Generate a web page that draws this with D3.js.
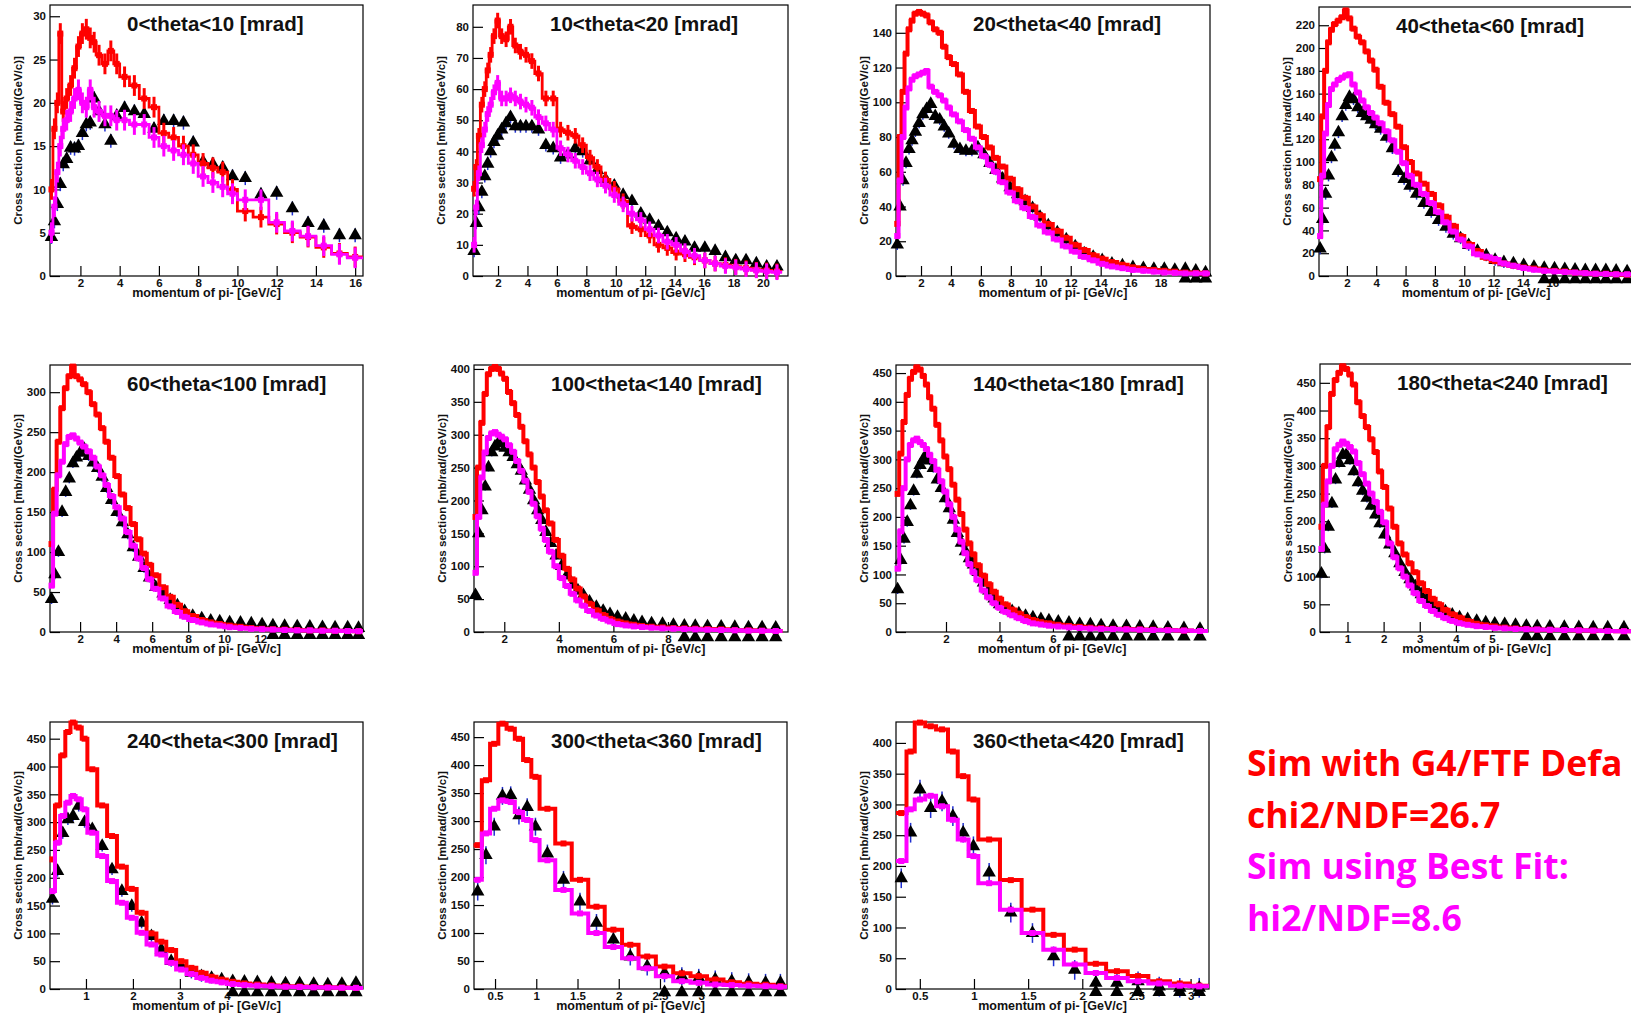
<!DOCTYPE html>
<html>
<head>
<meta charset="utf-8" />
<title>pi- production cross sections</title>
<style>
body { margin: 0; background: #fff; }
.root-txt { font-family: "Liberation Sans", Arial, sans-serif; font-weight: bold; }
</style>
</head>
<body>
<svg id="chart" width="1631" height="1017"></svg>
<script src="https://d3js.org/d3.v7.min.js"></script>
<script>
// ---- values ----
var titles = ["0<theta<10 [mrad]", "10<theta<20 [mrad]", "20<theta<40 [mrad]", "40<theta<60 [mrad]",
  "60<theta<100 [mrad]", "100<theta<140 [mrad]", "140<theta<180 [mrad]", "180<theta<240 [mrad]",
  "240<theta<300 [mrad]", "300<theta<360 [mrad]", "360<theta<420 [mrad]"];

var xLabels = [
  [2, 4, 6, 8, 10, 12, 14, 16],
  [2, 4, 6, 8, 10, 12, 14, 16, 18, 20],
  [2, 4, 6, 8, 10, 12, 14, 16, 18],
  [2, 4, 6, 8, 10, 12, 14, 16],
  [2, 4, 6, 8, 10, 12],
  [2, 4, 6, 8],
  [2, 4, 6],
  [1, 2, 3, 4, 5],
  [1, 2, 3, 4],
  [0.5, 1, 1.5, 2, 2.5, 3],
  [0.5, 1, 1.5, 2, 2.5, 3]
];
var yLabels = [
  [0, 5, 10, 15, 20, 25, 30],
  [0, 10, 20, 30, 40, 50, 60, 70, 80],
  [0, 20, 40, 60, 80, 100, 120, 140],
  [0, 20, 40, 60, 80, 100, 120, 140, 160, 180, 200, 220],
  [0, 50, 100, 150, 200, 250, 300],
  [0, 50, 100, 150, 200, 250, 300, 350, 400],
  [0, 50, 100, 150, 200, 250, 300, 350, 400, 450],
  [0, 50, 100, 150, 200, 250, 300, 350, 400, 450],
  [0, 50, 100, 150, 200, 250, 300, 350, 400, 450],
  [0, 50, 100, 150, 200, 250, 300, 350, 400, 450],
  [0, 50, 100, 150, 200, 250, 300, 350, 400]
];
var xDomains = [[0.45, 16.4], [0.3, 21.7], [0.33, 21.3], [0.1, 21.5], [0.33, 17.7], [0.89, 12.4],
  [0.13, 11.8], [0.24, 8.9], [0.234, 6.9], [0.245, 4.04], [0.28, 3.17]];
var yMax = [31.3, 87, 156, 236, 334, 406, 464, 484, 480, 477, 434];

// 0-10 mrad
var p1_edges = [0.45, 0.6, 0.75, 0.9, 1.05, 1.2, 1.4, 1.6, 1.8, 2.0, 2.2, 2.4, 2.6, 2.8, 3.1, 3.4, 3.7, 4.0, 4.5, 5.0,
  5.5, 6.0, 6.5, 7.0, 7.5, 8.0, 8.5, 9.0, 9.5, 10.0, 10.8, 11.6, 12.4, 13.2, 14.0, 14.8, 15.6, 16.4];
var p1_red = [10, 17, 20, 28, 19, 20.5, 22, 24, 26.5, 28, 28.5, 27.5, 27, 25.5, 24.5, 26, 24.5, 23, 22, 20.5,
  19.5, 16.5, 16, 15, 14, 13, 12.5, 12, 10, 7.5, 6.8, 6, 5, 4.5, 3.3, 2.6, 2.2];
var p1_mag = [5, 8, 12, 15, 17, 18, 19, 20.5, 21.5, 20, 19.5, 21.5, 19.5, 19, 18.5, 18.5, 18, 18, 17.5, 17.5,
  16, 15, 14.5, 14, 13, 11.5, 10.8, 10.3, 9.5, 8.8, 8.8, 6.2, 5.2, 4.6, 3.5, 2.5, 2.1];
var p1_data = [4.5, 6.3, 8.3, 10.6, 12.9, 13.5, 14.8, 14.7, 15, 16.5, 17.5, 17.7, 20.5, 19, 17.5, 15.6, 18.5, 19.4, 19, 18.7,
  17, 17.9, 17.9, 17.7, 15.4, 13.2, 12.9, 12.5, 11.5, 11.3, 9.4, 9.6, 7.8, 6.1, 5.8, 4.7, 4.7];

// 10-20 mrad
var p2_edges = [0.3, 0.45, 0.6, 0.8, 1.0, 1.2, 1.4, 1.6, 1.85, 2.1, 2.4, 2.7, 3.0, 3.35, 3.7, 4.1, 4.5, 5.0, 5.5, 6.0,
  6.5, 7.0, 7.5, 8.0, 8.5, 9.0, 9.6, 10.2, 10.8, 11.4, 12.0, 12.6, 13.2, 13.8, 14.4, 15.0, 15.7, 16.4, 17.1, 17.8,
  18.5, 19.2, 19.9, 20.6, 21.3];
var p2_red = [28, 35, 45, 55, 60, 66, 71, 77, 82, 77, 76, 80, 74, 72, 71, 69, 65, 57, 57, 47,
  46, 45, 42, 38, 35, 31, 28, 24, 16, 15, 13, 10, 9, 7.5, 7, 6, 5, 4, 3.5, 3, 2.5, 2, 1.8, 1.5];
var p2_mag = [10, 22, 33, 42, 47, 52, 55, 59, 62, 57, 57, 58, 57, 56, 55, 54, 51, 49, 47, 41,
  39, 37, 35, 33, 31, 29, 26, 23, 20, 18, 15, 13, 11, 10, 8, 6.5, 5, 4, 3.2, 2.8, 2.2, 1.8, 1.5, 1.2];
var p2_data = [8, 17, 22, 27, 32, 36, 40, 43, 45, 47, 49, 51, 48, 48, 48, 48, 47, 42, 41, 38,
  39, 41, 40, 37, 34, 31, 29, 26, 24, 20, 18, 16, 14, 12, 11, 9, 9, 8, 6, 5, 5, 4, 3, 3];

// 20-40 mrad
var p3_edges = [0.33, 0.5, 0.7, 0.9, 1.1, 1.3, 1.5, 1.75, 2.0, 2.25, 2.5, 2.8, 3.1, 3.4, 3.7, 4.0, 4.4, 4.8, 5.2, 5.6,
  6.0, 6.4, 6.8, 7.2, 7.7, 8.2, 8.7, 9.2, 9.7, 10.2, 10.8, 11.4, 12.0, 12.6, 13.2, 13.8, 14.4, 15.1, 15.8, 16.5,
  17.2, 17.9, 18.6, 19.3, 20.0, 20.7, 21.3];
var p3_red = [30, 80, 106, 128, 142, 147, 151, 152, 151, 150, 146, 142, 140, 132, 126, 122, 116, 106, 95, 86,
  80, 74, 68, 63, 56, 50, 45, 40, 35, 30, 26, 22, 18, 15, 12, 10, 8, 6.5, 5, 4, 3.5, 3, 2.5, 2, 1.8, 1.5];
var p3_mag = [23, 55, 80, 97, 108, 113, 115, 116, 117, 118, 109, 106, 104, 101, 97, 93, 89, 84, 79, 74,
  69, 64, 60, 54, 48, 43, 39, 34, 29, 25, 21, 17, 14, 11, 9, 7, 5.5, 4.5, 3.5, 3, 2.5, 2, 1.8, 1.5, 1.5, 1.5];
var p3_data = [18, 40, 55, 65, 73, 78, 83, 88, 93, 96, 99, 92, 90, 86, 82, 76, 73, 72, 72, 74,
  70, 65, 61, 56, 51, 47, 43, 39, 34, 29, 25, 21, 17, 13, 11, 9, 7, 6, 5, 4.5, 4, 4, 3.5, 4, 3, 2];
var p3_lowX = [19.65, 20.35, 21.0];
var p3_lowY = [-1.5, -1.5, -1.5];

// 40-60 mrad
var p4_edges = [0.1, 0.25, 0.45, 0.65, 0.85, 1.05, 1.3, 1.55, 1.8, 2.05, 2.3, 2.6, 2.9, 3.2, 3.5, 3.8, 4.1, 4.5, 4.9, 5.3,
  5.7, 6.1, 6.5, 7.0, 7.5, 8.0, 8.5, 9.0, 9.5, 10.0, 10.6, 11.2, 11.8, 12.4, 13.0, 13.7, 14.4, 15.1, 15.8, 16.5,
  17.2, 17.9, 18.6, 19.3, 20.0, 20.7, 21.5];
var p4_red = [85, 140, 180, 205, 216, 221, 224, 227, 233, 226, 217, 210, 205, 197, 189, 181, 166, 152, 142, 131,
  113, 100, 90, 81, 72, 62, 52, 44, 35, 28, 22, 16, 13, 11, 9, 7.5, 6.5, 5, 4.5, 4, 3, 2.5, 2, 2, 1.5, 1.2];
var p4_mag = [35, 88, 125, 150, 164, 168, 172, 174, 176, 177, 168, 161, 154, 148, 143, 139, 134, 127, 119, 109,
  99, 88, 80, 72, 64, 56, 47, 39, 32, 26, 19, 17, 15, 11, 9, 7, 5.5, 4.5, 4, 3.5, 3, 2.5, 2, 1.8, 1.5, 1.5];
var p4_data = [24, 50, 72, 88, 104, 115, 126, 140, 150, 157, 155, 148, 143, 140, 137, 133, 129, 122, 112, 92,
  85, 79, 72, 64, 56, 49, 43, 37, 33, 27, 22, 18, 14, 12, 11, 9.5, 8, 7, 6.5, 6, 5.5, 5, 5, 5, 4.5, 4];
var p4_lowX = [15.45, 16.15, 16.85, 17.55, 18.25, 18.95, 19.65, 20.35, 21.1];
var p4_lowY = [-3, -3, -3, -3, -3, -3, -3, -3, -3];

// 60-100 mrad
var p5_edges = [0.33, 0.5, 0.7, 0.9, 1.1, 1.3, 1.5, 1.7, 1.9, 2.1, 2.35, 2.6, 2.85, 3.1, 3.35, 3.6, 3.9, 4.2, 4.5, 4.8,
  5.1, 5.4, 5.7, 6.0, 6.4, 6.8, 7.2, 7.6, 8.0, 8.5, 9.0, 9.5, 10.0, 10.6, 11.2, 11.8, 12.4, 13.0, 13.7, 14.4,
  15.1, 15.8, 16.5, 17.2, 17.7];
var p5_red = [110, 178, 238, 280, 305, 320, 332, 320, 316, 310, 300, 285, 272, 255, 238, 218, 195, 172, 155, 135,
  116, 98, 84, 71, 56, 44, 34, 26, 20, 15, 12, 10, 8, 6.5, 5, 4, 3.5, 3, 2.5, 2, 2, 1.5, 1.2, 1];
var p5_mag = [58, 148, 196, 213, 235, 244, 246, 242, 237, 232, 226, 218, 207, 196, 184, 170, 156, 142, 125, 108,
  92, 80, 66, 54, 42, 32, 25, 19, 15, 12, 9.5, 8, 6, 5, 4, 3.5, 3, 2.5, 2, 2, 1.5, 1.5, 1.2, 1];
var p5_data = [41, 72, 100, 150, 175, 192, 211, 218, 224, 229, 220, 212, 205, 194, 180, 165, 150, 137, 122, 106,
  94, 80, 68, 56, 48, 40, 33, 26, 20, 17, 14, 13, 12, 11.5, 10.5, 9.5, 8, 7.5, 7, 6.5, 6, 5.5, 5.5, 5];
var p5_lowX = [12.7, 13.35, 14.05, 14.75, 15.45, 16.15, 16.85, 17.45];
var p5_lowY = [-4, -4, -4, -4, -4, -4, -4, -4];

// 100-140 mrad
var p6_edges = [0.89, 1.0, 1.12, 1.24, 1.36, 1.48, 1.6, 1.72, 1.84, 1.96, 2.1, 2.25, 2.4, 2.55, 2.7, 2.85, 3.0, 3.15, 3.3, 3.45,
  3.6, 3.8, 4.0, 4.2, 4.4, 4.6, 4.8, 5.0, 5.25, 5.5, 5.75, 6.0, 6.3, 6.6, 6.9, 7.2, 7.6, 8.0, 8.4, 8.8,
  9.2, 9.7, 10.2, 10.7, 11.2, 11.7, 12.2];
var p6_red = [175, 250, 318, 362, 392, 400, 403, 400, 393, 385, 365, 348, 330, 312, 290, 270, 250, 228, 206, 185,
  165, 140, 116, 96, 80, 66, 54, 43, 33, 26, 20, 16, 13, 11, 9, 8, 7, 6, 5.5, 5, 4.5, 4, 3, 2.5, 2, 1.5];
var p6_mag = [90, 175, 235, 273, 295, 302, 304, 300, 297, 293, 284, 274, 260, 245, 230, 213, 195, 176, 157, 140,
  122, 100, 82, 70, 58, 48, 40, 32, 25, 20, 16, 12, 10, 8.5, 7.5, 6.5, 5.5, 5, 4.5, 4, 3.5, 3, 2.5, 2, 1.8, 1.5];
var p6_data = [56, 150, 185, 221, 250, 273, 282, 287, 289, 280, 273, 266, 255, 245, 230, 216, 200, 185, 170, 152,
  135, 116, 100, 86, 72, 63, 56, 46, 38, 32, 27, 23, 20, 17, 15, 13, 12, 10.5, 9.5, 9, 8.5, 8, 7.5, 7, 7, 6.5];
var p6_lowX = [8.6, 9.0, 9.45, 9.95, 10.45, 10.95, 11.45, 11.95];
var p6_lowY = [-8, -8, -8, -8, -8, -8, -8, -8];

// 140-180 mrad
var p7_edges = [0.13, 0.25, 0.37, 0.49, 0.61, 0.73, 0.85, 0.97, 1.09, 1.21, 1.33, 1.45, 1.6, 1.75, 1.9, 2.05, 2.2, 2.35, 2.5, 2.65,
  2.8, 2.95, 3.1, 3.3, 3.5, 3.7, 3.9, 4.1, 4.35, 4.6, 4.85, 5.1, 5.4, 5.7, 6.0, 6.4, 6.8, 7.2, 7.6, 8.0,
  8.5, 9.0, 9.5, 10.0, 10.6, 11.2, 11.8];
var p7_red = [240, 310, 365, 412, 440, 452, 460, 456, 445, 430, 408, 388, 360, 333, 305, 283, 256, 230, 205, 178,
  154, 135, 116, 98, 83, 70, 58, 48, 39, 32, 26, 21, 17, 15, 12.5, 10.5, 9, 7.5, 6.5, 5.5, 5, 4.5, 4, 3.5, 2.5, 1.8];
var p7_mag = [110, 175, 250, 300, 325, 333, 336, 330, 325, 318, 308, 297, 282, 262, 244, 222, 200, 178, 157, 137,
  118, 104, 90, 72, 60, 50, 42, 35, 29, 24, 19, 15, 13, 11, 9.5, 8, 7, 6, 5.5, 5, 4.5, 4, 3.5, 3, 2.5, 1.8];
var p7_data = [74, 125, 162, 191, 220, 245, 275, 290, 300, 307, 298, 285, 265, 250, 232, 215, 195, 172, 155, 140,
  128, 117, 104, 86, 72, 58, 48, 40, 36, 32, 28, 25, 22, 20, 18, 16, 13.5, 13, 11.5, 10.5, 10, 9, 8.5, 7.5, 6.5, 5];
var p7_lowX = [6.6, 7.0, 7.4, 7.8, 8.25, 8.75, 9.25, 9.75, 10.3, 10.9, 11.5];
var p7_lowY = [-8, -8, -8, -8, -8, -8, -8, -8, -8, -8, -8];

// 180-240 mrad
var p8_edges = [0.24, 0.32, 0.42, 0.52, 0.62, 0.72, 0.82, 0.92, 1.02, 1.12, 1.24, 1.36, 1.48, 1.6, 1.72, 1.84, 1.96, 2.1, 2.24, 2.38,
  2.52, 2.66, 2.8, 2.96, 3.12, 3.28, 3.44, 3.62, 3.8, 4.0, 4.2, 4.45, 4.7, 4.95, 5.2, 5.5, 5.8, 6.1, 6.4, 6.8,
  7.2, 7.6, 8.0, 8.4, 8.9];
var p8_red = [190, 300, 370, 430, 455, 468, 480, 475, 465, 447, 415, 390, 370, 348, 325, 290, 262, 223, 190, 160,
  140, 124, 108, 88, 74, 60, 50, 40, 32, 26, 20, 15, 12, 10, 8, 6.5, 5.5, 4.5, 4, 3.5, 3, 2.5, 2, 1.5];
var p8_mag = [150, 230, 272, 300, 330, 338, 344, 340, 334, 326, 305, 285, 268, 250, 235, 217, 198, 160, 135, 115,
  100, 84, 70, 56, 47, 38, 31, 25, 20, 16, 13, 10.5, 9, 7.5, 6.5, 5.5, 5, 4.5, 4, 3.5, 3, 2.5, 2, 1.5];
var p8_data = [105, 150, 190, 232, 275, 305, 320, 320, 310, 290, 270, 255, 242, 228, 212, 196, 176, 158, 142, 124,
  108, 95, 82, 68, 58, 50, 43, 37, 31, 26, 23, 20, 17, 15, 14, 12.5, 11, 10, 9.5, 9, 8.5, 8, 8, 8];
var p8_lowX = [5.95, 6.25, 6.6, 7.0, 7.4, 7.8, 8.2, 8.65];
var p8_lowY = [-8, -8, -8, -8, -8, -8, -8, -8];

// 240-300 mrad
var p9_edges = [0.234, 0.34, 0.45, 0.56, 0.67, 0.78, 0.91, 1.03, 1.24, 1.45, 1.66, 1.87, 2.08, 2.29, 2.5, 2.71, 2.92, 3.14,
  3.35, 3.57, 3.78, 4.0, 4.25, 4.5, 4.8, 5.1, 5.4, 5.7, 6.0, 6.3, 6.6, 6.9];
var p9_red = [233, 330, 420, 462, 479, 470, 450, 395, 330, 275, 220, 180, 137, 100, 85, 70, 50, 38, 29, 22,
  17, 13, 10, 8, 6.5, 5, 4.5, 3.5, 3, 2.5, 2];
var p9_mag = [176, 263, 311, 335, 347, 341, 323, 281, 239, 194, 155, 128, 101, 80, 62, 47, 35, 27, 20, 15,
  12, 9, 7, 6, 5, 4, 3.5, 3, 2.5, 2.2, 2];
var p9_data = [162, 212, 280, 305, 311, 329, 300, 287, 257, 215, 176, 149, 119, 95, 71, 50, 41, 29, 23, 20,
  17, 14, 13, 12, 11, 10, 10, 9, 8, 9, 11];
var p9_lowX = [4.125, 4.375, 4.65, 4.95, 5.25, 5.55, 5.85, 6.15, 6.45, 6.75];
var p9_lowY = [-6, -6, -6, -6, -6, -6, -6, -6, -6, -6];

// 300-360 mrad
var p10_edges = [0.24, 0.34, 0.44, 0.54, 0.64, 0.74, 0.84, 0.94, 1.04, 1.23, 1.43, 1.63, 1.83, 2.04, 2.24, 2.45, 2.66, 2.87,
  3.07, 3.27, 3.47, 3.68, 3.88, 4.04];
var p10_red = [257, 373, 438, 474, 465, 447, 409, 379, 322, 260, 195, 147, 106, 79, 58, 40, 28, 23, 17, 12, 9.5, 7.7, 5];
var p10_mag = [195, 278, 322, 337, 334, 316, 302, 266, 230, 177, 135, 100, 75, 55, 37, 23, 14, 11, 8, 7, 6, 5, 4];
var p10_data = [174, 239, 290, 345, 346, 310, 325, 290, 242, 195, 156, 118, 88, 58, 40, 28, 23, 20, 17, 14, 12, 11, 11];
var p10_lowX = [2.555, 2.765, 2.97, 3.17, 3.37, 3.575, 3.78, 3.96];
var p10_lowY = [-6, -6, -6, -6, -6, -6, -6, -6];

// 360-420 mrad
var p11_edges = [0.28, 0.377, 0.453, 0.55, 0.65, 0.76, 0.85, 0.95, 1.04, 1.24, 1.44, 1.64, 1.83, 2.03, 2.22, 2.42, 2.61,
  2.81, 2.99, 3.17];
var p11_red = [286, 386, 433, 427, 422, 386, 346, 308, 243, 177, 129, 88, 64, 41, 29, 21, 12.5, 9, 5.4];
var p11_mag = [208, 292, 308, 314, 297, 275, 243, 216, 172, 129, 91, 64, 40, 26, 18, 12.5, 9, 5.4, 4.3];
var p11_data = [180, 254, 324, 294, 305, 281, 254, 232, 189, 124, 91, 53, 31, 10, 10, 12.5, 4, 2, 2];
var p11_lowX = [2.125, 2.32, 2.515, 2.71, 2.9, 3.08];
var p11_lowY = [-5, -5, -5, -5, -5, -5];

// statistical error sizes (data units)
var dataErr = [0.8, 2, 3, 5, 6, 6, 8, 8, 10, 16, 16];
var simErr = [1.2, 2.5, 0, 0, 0, 0, 0, 0, 0, 0, 0];

// the first line is cut at the page edge in the picture
var legendLines = [
  { text: "Sim with G4/FTF Defa", color: "#ff0000" },
  { text: "chi2/NDF=26.7", color: "#ff0000" },
  { text: "Sim using Best Fit:", color: "#ff00ff" },
  { text: "hi2/NDF=8.6", color: "#ff00ff" }
];

// ---- layout ----
// frame boxes [left, top, right, bottom]
var frames = [
  [50, 5, 363, 276], [473, 5, 788, 276], [896, 5, 1210, 276], [1319, 7, 1633, 276],
  [50, 365, 363, 632], [474, 365, 788, 632], [896, 365, 1208, 632], [1320, 364, 1633, 632],
  [50, 722, 363, 989], [474, 722, 787, 989], [896, 722, 1209, 989]
];
var xMinor = [0.5, 0.5, 0.5, 0.5, 0.5, 0.5, 0.5, 0.2, 0.2, 0.1, 0.1];
var yMinor = [1, 2, 4, 4, 10, 10, 10, 10, 10, 10, 10];

var panels = [
  { edges: p1_edges, red: p1_red, mag: p1_mag, data: p1_data, lowX: [], lowY: [] },
  { edges: p2_edges, red: p2_red, mag: p2_mag, data: p2_data, lowX: [], lowY: [] },
  { edges: p3_edges, red: p3_red, mag: p3_mag, data: p3_data, lowX: p3_lowX, lowY: p3_lowY },
  { edges: p4_edges, red: p4_red, mag: p4_mag, data: p4_data, lowX: p4_lowX, lowY: p4_lowY },
  { edges: p5_edges, red: p5_red, mag: p5_mag, data: p5_data, lowX: p5_lowX, lowY: p5_lowY },
  { edges: p6_edges, red: p6_red, mag: p6_mag, data: p6_data, lowX: p6_lowX, lowY: p6_lowY },
  { edges: p7_edges, red: p7_red, mag: p7_mag, data: p7_data, lowX: p7_lowX, lowY: p7_lowY },
  { edges: p8_edges, red: p8_red, mag: p8_mag, data: p8_data, lowX: p8_lowX, lowY: p8_lowY },
  { edges: p9_edges, red: p9_red, mag: p9_mag, data: p9_data, lowX: p9_lowX, lowY: p9_lowY },
  { edges: p10_edges, red: p10_red, mag: p10_mag, data: p10_data, lowX: p10_lowX, lowY: p10_lowY },
  { edges: p11_edges, red: p11_red, mag: p11_mag, data: p11_data, lowX: p11_lowX, lowY: p11_lowY }
];

var svg = d3.select("#chart");
svg.append("rect").attr("width", 1631).attr("height", 1017).attr("fill", "#fff");

var tri = d3.symbol().type(d3.symbolTriangle).size(78);

function minorValues(dom, step) {
  return d3.range(Math.ceil(dom[0] / step - 1e-6), Math.floor(dom[1] / step + 1e-6) + 1)
    .map(function(k) { return +(k * step).toFixed(4); });
}

panels.forEach(function(p, i) {
  var f = frames[i];
  var x = d3.scaleLinear().domain(xDomains[i]).range([f[0], f[2]]);
  var y = d3.scaleLinear().domain([0, yMax[i]]).range([f[3], f[1]]);
  var g = svg.append("g").attr("class", "root-txt");

  var centers = d3.pairs(p.edges).map(function(e) { return (e[0] + e[1]) / 2; });

  // frame
  g.append("rect")
    .attr("x", f[0]).attr("y", f[1])
    .attr("width", f[2] - f[0]).attr("height", f[3] - f[1])
    .attr("fill", "none").attr("stroke", "#000").attr("stroke-width", 1.2);

  // axes, ticks pointing inward
  var xa = g.append("g").attr("transform", "translate(0," + f[3] + ")");
  xa.call(d3.axisBottom(x).tickValues(minorValues(xDomains[i], xMinor[i])).tickSize(-5).tickFormat(""));
  xa.call(d3.axisBottom(x).tickValues(xLabels[i]).tickSize(-10).tickPadding(3).tickFormat(d3.format("")));
  var ya = g.append("g").attr("transform", "translate(" + f[0] + ",0)");
  ya.call(d3.axisLeft(y).tickValues(minorValues([0, yMax[i]], yMinor[i])).tickSize(-5).tickFormat(""));
  ya.call(d3.axisLeft(y).tickValues(yLabels[i]).tickSize(-10).tickPadding(4).tickFormat(d3.format("")));
  g.selectAll(".domain").remove();
  g.selectAll(".tick line").attr("stroke", "#000").attr("stroke-width", 1.2);
  g.selectAll(".tick text").attr("font-size", 11.5).attr("fill", "#111")
    .attr("font-family", null);

  // axis titles
  g.append("text")
    .attr("x", (f[0] + f[2]) / 2).attr("y", f[3] + 21)
    .attr("text-anchor", "middle").attr("font-size", 12.5).attr("fill", "#111")
    .text("momentum of pi- [GeV/c]");
  g.append("text")
    .attr("transform", "translate(" + (f[0] - 28) + "," + ((f[1] + f[3]) / 2) + ") rotate(-90)")
    .attr("text-anchor", "middle").attr("font-size", 11.5).attr("fill", "#111")
    .text("Cross section [mb/rad/(GeV/c)]");

  // title
  g.append("text")
    .attr("x", f[0] + 77).attr("y", f[1] + 26)
    .attr("font-size", 20.5).attr("fill", "#111")
    .text(titles[i]);

  // data: blue error bars then black triangles
  g.selectAll(".derr").data(p.data).join("line")
    .attr("x1", function(d, j) { return x(centers[j]); })
    .attr("x2", function(d, j) { return x(centers[j]); })
    .attr("y1", function(d) { return y(d - dataErr[i]); })
    .attr("y2", function(d) { return y(d + dataErr[i]); })
    .attr("stroke", "#1f2fd0").attr("stroke-width", 1.5);
  g.selectAll(".dpt").data(p.data).join("path")
    .attr("d", tri)
    .attr("transform", function(d, j) { return "translate(" + x(centers[j]) + "," + y(d) + ")"; })
    .attr("fill", "#000");
  g.selectAll(".lpt").data(p.lowY).join("path")
    .attr("d", tri)
    .attr("transform", function(d, j) { return "translate(" + x(p.lowX[j]) + "," + y(d) + ")"; })
    .attr("fill", "#000");

  // simulations: step outlines, error bars, bin markers
  [[p.red, "#ff0000"], [p.mag, "#ff00ff"]].forEach(function(s) {
    var vals = s[0];
    var pts = p.edges.map(function(e, j) { return [x(e), y(vals[Math.min(j, vals.length - 1)])]; });
    g.append("path")
      .attr("d", d3.line().curve(d3.curveStepAfter)(pts))
      .attr("fill", "none").attr("stroke", s[1]).attr("stroke-width", i < 2 ? 2.8 : 4);
    if (simErr[i] > 0) {
      g.append("g").selectAll("line").data(vals).join("line")
        .attr("x1", function(d, j) { return x(centers[j]); })
        .attr("x2", function(d, j) { return x(centers[j]); })
        .attr("y1", function(d) { return y(d - simErr[i]); })
        .attr("y2", function(d) { return y(d + simErr[i]); })
        .attr("stroke", s[1]).attr("stroke-width", 3);
    }
    g.append("g").selectAll("rect").data(vals).join("rect")
      .attr("x", function(d, j) { return x(centers[j]) - 3; })
      .attr("y", function(d) { return y(d) - 3; })
      .attr("width", 6).attr("height", 6)
      .attr("fill", s[1]);
  });
});

// legend text
svg.append("g").selectAll("text").data(legendLines).join("text")
  .attr("x", 1247)
  .attr("y", function(d, i) { return 776 + i * 51.5; })
  .style("font-family", "'Open Sans', sans-serif")
  .style("font-weight", "bold")
  .style("font-size", "35.5px")
  .attr("fill", function(d) { return d.color; })
  .text(function(d) { return d.text; });
</script>
</body>
</html>
